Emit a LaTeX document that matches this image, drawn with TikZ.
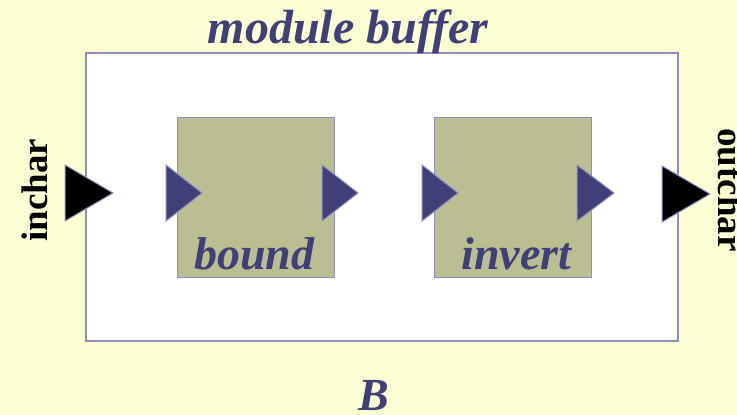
\documentclass[tikz,border=0pt]{standalone}
\usepackage{fontspec}
\setmainfont{Liberation Serif}
\usetikzlibrary{positioning}
\definecolor{paper}{HTML}{FFFFD6}
\definecolor{ink}{HTML}{404078}
\definecolor{edge}{HTML}{8E8EC0}
\definecolor{olive}{HTML}{BBBD93}

\begin{document}
\begin{tikzpicture}[x=1pt,y=-1pt,thick]
\tikzset{
  frame/.style={draw=edge,line width=1.3pt},
  block/.style={frame,fill=olive,minimum width=157pt,minimum height=160pt,anchor=north west,inner sep=0pt},
  port/.style={draw=edge,line width=1pt,fill=ink},
  extport/.style={draw=edge,line width=1pt,fill=black},
  title/.style={text=ink,font=\fontsize{46}{52}\selectfont\bfseries\itshape,anchor=base},
  signal/.style={font=\fontsize{37}{42}\selectfont\bfseries,anchor=base}
}
\fill[paper] (0,0) rectangle (737,415);
\useasboundingbox (0,0) rectangle (737,415);

% module and its two blocks
\draw[frame,fill=white] (86,53) rectangle (678,341);
\node[block] (bound) at (177,117) {};
\node[block] (invert) at (434,117) {};

\node[title,font=\fontsize{48}{54}\selectfont\bfseries\itshape] (modname) at (348,43) {module buffer};
\node[title] (boundname) at ([yshift=9pt,xshift=-2pt]bound.south) {bound};
\node[title] (invertname) at ([yshift=9pt,xshift=3pt]invert.south) {invert};
\node[title] (bname) at (374,410) {B};

% ports
\draw[extport] (65,165) -- (113,193) -- (65,221) -- cycle;
\draw[port] (166,165) -- (202,193) -- (166,221) -- cycle;
\draw[port] (322,165) -- (358,193) -- (322,221) -- cycle;
\draw[port] (422,165) -- (458,193) -- (422,221) -- cycle;
\draw[port] (577,165) -- (614,193) -- (577,221) -- cycle;
\draw[extport] (662,166) -- (710,194) -- (662,222) -- cycle;

\node[signal,rotate=90] (inchar) at (47,190) {inchar};
\node[signal,rotate=-90] (outchar) at (718,190) {outchar};
\end{tikzpicture}
\end{document}
